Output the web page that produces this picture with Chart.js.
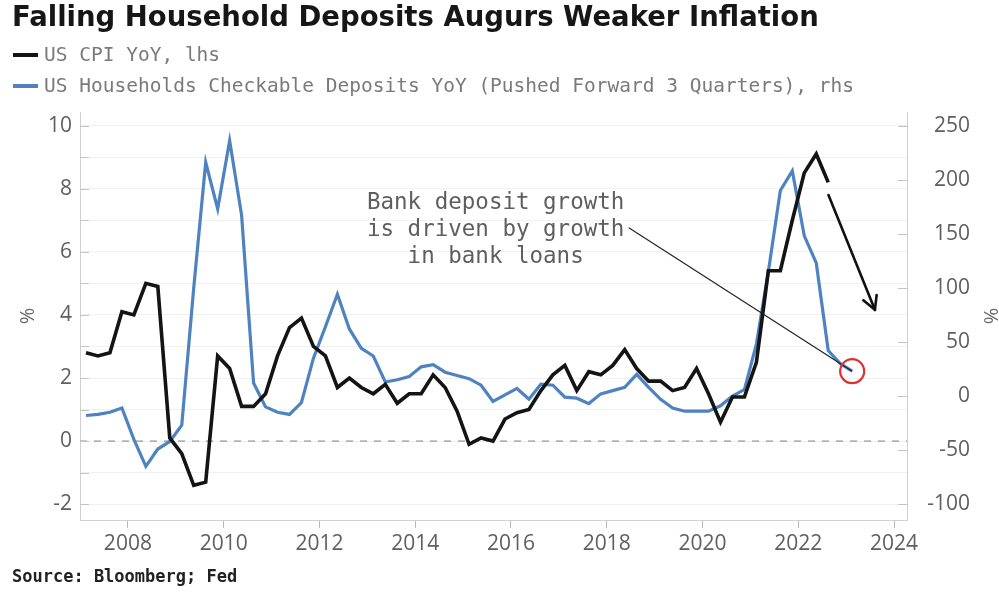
<!DOCTYPE html>
<html>
<head>
<meta charset="utf-8">
<script src="https://cdn.jsdelivr.net/npm/chart.js@4.4.1/dist/chart.umd.min.js"></script>
<style>
  html, body { margin: 0; padding: 0; background: #fff; }
  body { width: 999px; height: 594px; position: relative; overflow: hidden; }
  #grafico { position: absolute; left: 0; top: 0; }
  #titulo { position: absolute; left: 12px; top: 0px; font: bold 27.5px "DejaVu Sans"; color: #161616; white-space: nowrap; }
  .legenda { position: absolute; left: 13px; font: 19.5px "DejaVu Sans Mono"; color: #7a7a7a; white-space: nowrap; line-height: 24px; }
  .legenda i { display: inline-block; width: 25px; height: 4px; vertical-align: middle; margin-right: 6px; position: relative; top: -1px; }
  #fonte { position: absolute; left: 12px; top: 566px; font: bold 17px "DejaVu Sans Mono"; color: #222; white-space: nowrap; }
</style>
</head>
<body>
<canvas id="grafico" width="999" height="594"></canvas>
<div id="titulo">Falling Household Deposits Augurs Weaker Inflation</div>
<div class="legenda" style="top:43px"><i style="background:#141414"></i>US CPI YoY, lhs</div>
<div class="legenda" style="top:74px"><i style="background:#4f83bf"></i>US Households Checkable Deposits YoY (Pushed Forward 3 Quarters), rhs</div>
<div id="fonte">Source: Bloomberg; Fed</div>

<script>
// Trimestres (fim de trimestre), 2007 T1 até 2023 T1
const TRIMESTRES = [
  "2007Q1", "2007Q2", "2007Q3", "2007Q4", "2008Q1", "2008Q2", "2008Q3", "2008Q4",
  "2009Q1", "2009Q2", "2009Q3", "2009Q4", "2010Q1", "2010Q2", "2010Q3", "2010Q4",
  "2011Q1", "2011Q2", "2011Q3", "2011Q4", "2012Q1", "2012Q2", "2012Q3", "2012Q4",
  "2013Q1", "2013Q2", "2013Q3", "2013Q4", "2014Q1", "2014Q2", "2014Q3", "2014Q4",
  "2015Q1", "2015Q2", "2015Q3", "2015Q4", "2016Q1", "2016Q2", "2016Q3", "2016Q4",
  "2017Q1", "2017Q2", "2017Q3", "2017Q4", "2018Q1", "2018Q2", "2018Q3", "2018Q4",
  "2019Q1", "2019Q2", "2019Q3", "2019Q4", "2020Q1", "2020Q2", "2020Q3", "2020Q4",
  "2021Q1", "2021Q2", "2021Q3", "2021Q4", "2022Q1", "2022Q2", "2022Q3", "2022Q4",
  "2023Q1",
];

// US CPI YoY (%), eixo esquerdo — até 2022 T3
const CPI = [
  2.8, 2.7, 2.8, 4.1, 4.0, 5.0, 4.9, 0.1,
  -0.4, -1.4, -1.3, 2.7, 2.3, 1.1, 1.1, 1.5,
  2.7, 3.6, 3.9, 3.0, 2.7, 1.7, 2.0, 1.7,
  1.5, 1.8, 1.2, 1.5, 1.5, 2.1, 1.7, 0.95,
  -0.1, 0.1, 0.0, 0.7, 0.9, 1.0, 1.6, 2.1,
  2.4, 1.6, 2.2, 2.1, 2.4, 2.9, 2.3, 1.9,
  1.9, 1.6, 1.7, 2.3, 1.5, 0.6, 1.4, 1.4,
  2.5, 5.4, 5.4, 7.0, 8.5, 9.1, 8.2,
];

// Depósitos à vista das famílias YoY (%), adiantado 3 trimestres — eixo direito
const DEPOSITOS = [
  -18, -17, -15, -11, -40, -65, -49, -42,
  -27, 100, 216, 173, 236, 167, 12, -10,
  -15, -17, -6, 35, 64, 94, 62, 44,
  37, 13, 15, 18, 27, 29, 22, 19,
  16, 10, -5, 1, 7, -3, 11, 10,
  -1, -2, -7, 2, 5, 8, 20, 8,
  -3, -11, -14, -14, -14, -9, 0, 6,
  48, 115, 190, 208, 148, 123, 42, 30,
  23,
];

const ANOS = [2008, 2010, 2012, 2014, 2016, 2018, 2020, 2022, 2024];
const TICKS_ESQ = [-2, -1, 0, 1, 2, 3, 4, 5, 6, 7, 8, 9, 10];
const TICKS_DIR = [-100, -50, 0, 50, 100, 150, 200, 250];

const TEXTO_NOTA = ["Bank deposit growth", "is driven by growth", "in bank loans"];

const AZUL = "#4f83bf";
const FONTE_EIXO = { family: "Open Sans", size: 21 };

/** "2007Q1" -> ano decimal no meio do trimestre */
function posTrimestre(t) {
  const ano = Number(t.slice(0, 4));
  const q = Number(t.slice(5));
  return ano + (q - 1) * 0.25 + 0.125;
}

const pontosCPI = CPI.map((v, i) => ({ x: posTrimestre(TRIMESTRES[i]), y: v }));
const pontosDep = DEPOSITOS.map((v, i) => ({ x: posTrimestre(TRIMESTRES[i]), y: v }));

function linha(ctx, x1, y1, x2, y2) {
  ctx.beginPath();
  ctx.moveTo(x1, y1);
  ctx.lineTo(x2, y2);
  ctx.stroke();
}

// Linha do zero, marcas internas dos eixos e anotações
const anotacoes = {
  id: "anotacoes",
  beforeDatasetsDraw(chart) {
    const { ctx, chartArea: a, scales: { y, y2 } } = chart;
    ctx.save();
    const y0 = y.getPixelForValue(0);
    ctx.strokeStyle = "#a8a8a8";
    ctx.lineWidth = 1.5;
    ctx.setLineDash([7, 7]);
    linha(ctx, a.left, y0, a.right, y0);
    ctx.setLineDash([]);

    ctx.strokeStyle = "#c4c4c4";
    ctx.lineWidth = 1;
    TICKS_ESQ.forEach((v) => {
      const py = Math.round(y.getPixelForValue(v)) + 0.5;
      linha(ctx, a.left, py, a.left + 9, py);
    });
    TICKS_DIR.forEach((v) => {
      const py = Math.round(y2.getPixelForValue(v)) + 0.5;
      linha(ctx, a.right - 9, py, a.right, py);
    });
    ctx.restore();
  },
  afterDatasetsDraw(chart) {
    const { ctx, scales: { x, y, y2 } } = chart;
    ctx.save();

    // texto da nota
    ctx.font = '22.5px "DejaVu Sans Mono"';
    ctx.fillStyle = "#5e5e5e";
    ctx.textAlign = "center";
    ctx.textBaseline = "middle";
    const linhasY = [7.55, 6.69, 5.84];
    TEXTO_NOTA.forEach((t, i) => {
      ctx.fillText(t, x.getPixelForValue(2015.68), y.getPixelForValue(linhasY[i]));
    });

    // ligação da nota até o último ponto dos depósitos
    const ultimo = pontosDep[pontosDep.length - 1];
    const cx = x.getPixelForValue(ultimo.x);
    const cy = y2.getPixelForValue(ultimo.y);
    ctx.strokeStyle = "#222";
    ctx.lineWidth = 1.2;
    linha(ctx, x.getPixelForValue(2018.46), y.getPixelForValue(6.76), cx, cy);

    // círculo vermelho
    ctx.strokeStyle = "#e0312f";
    ctx.lineWidth = 2.2;
    ctx.beginPath();
    ctx.arc(cx, cy, 12, 0, Math.PI * 2);
    ctx.stroke();

    // seta de queda da inflação
    const x1 = x.getPixelForValue(2022.63), y1 = y.getPixelForValue(7.8);
    const x2 = x.getPixelForValue(2023.6), y2p = y.getPixelForValue(4.16);
    ctx.strokeStyle = "#111";
    ctx.lineWidth = 2.6;
    ctx.lineCap = "round";
    linha(ctx, x1, y1, x2, y2p);
    const ang = Math.atan2(y2p - y1, x2 - x1);
    const tam = 15;
    [-0.5, 0.5].forEach((d) => {
      linha(ctx, x2, y2p, x2 - tam * Math.cos(ang + d), y2p - tam * Math.sin(ang + d));
    });
    ctx.restore();
  },
};

new Chart(document.getElementById("grafico"), {
  type: "line",
  data: {
    datasets: [
      {
        label: "US CPI YoY, lhs",
        data: pontosCPI,
        yAxisID: "y",
        borderColor: "#141414",
        borderWidth: 3.6,
        pointRadius: 0,
        tension: 0,
      },
      {
        label: "US Households Checkable Deposits YoY (Pushed Forward 3 Quarters), rhs",
        data: pontosDep,
        yAxisID: "y2",
        borderColor: AZUL,
        borderWidth: 3.2,
        pointRadius: 0,
        tension: 0,
      },
    ],
  },
  options: {
    responsive: false,
    devicePixelRatio: 1,
    animation: false,
    layout: { padding: { top: 112, left: 0, right: 29, bottom: 0 } },
    plugins: { legend: { display: false }, tooltip: { enabled: false } },
    scales: {
      x: {
        type: "linear",
        min: 2007.0,
        max: 2024.27,
        afterBuildTicks: (s) => { s.ticks = ANOS.map((v) => ({ value: v })); },
        afterFit: (s) => { s.height = 74; },
        grid: { drawOnChartArea: false, drawTicks: true, tickLength: 8, color: "#b8b8b8" },
        border: { color: "#d0d0d0" },
        ticks: { font: FONTE_EIXO, color: "#5f5f5f", padding: 3, maxRotation: 0, autoSkip: false, callback: (v) => String(v) },
      },
      y: {
        position: "left",
        min: -2.5,
        max: 10.43,
        afterBuildTicks: (s) => { s.ticks = TICKS_ESQ.map((v) => ({ value: v })); },
        afterFit: (s) => { s.width = 80; },
        grid: { color: "#f0f0f0", drawTicks: false },
        border: { color: "#d0d0d0" },
        ticks: { font: FONTE_EIXO, color: "#5f5f5f", padding: 8, callback: (v) => (v % 2 === 0 ? String(v) : "") },
        title: { display: true, text: "%", font: { family: "Open Sans", size: 20, lineHeight: 1 }, color: "#6a6a6a", padding: { top: 18, bottom: 0 } },
      },
      y2: {
        position: "right",
        min: -114.58,
        max: 262.5,
        afterBuildTicks: (s) => { s.ticks = TICKS_DIR.map((v) => ({ value: v })); },
        afterFit: (s) => { s.width = 63; },
        grid: { drawOnChartArea: false, drawTicks: false },
        border: { color: "#d0d0d0" },
        ticks: { font: FONTE_EIXO, color: "#5f5f5f", padding: 12, crossAlign: "far", callback: (v) => String(v) },
        title: { display: true, text: "%", font: { family: "Open Sans", size: 20, lineHeight: 1 }, color: "#6a6a6a", padding: { top: -30, bottom: 0 } },
      },
    },
  },
  plugins: [anotacoes],
});
</script>
</body>
</html>
